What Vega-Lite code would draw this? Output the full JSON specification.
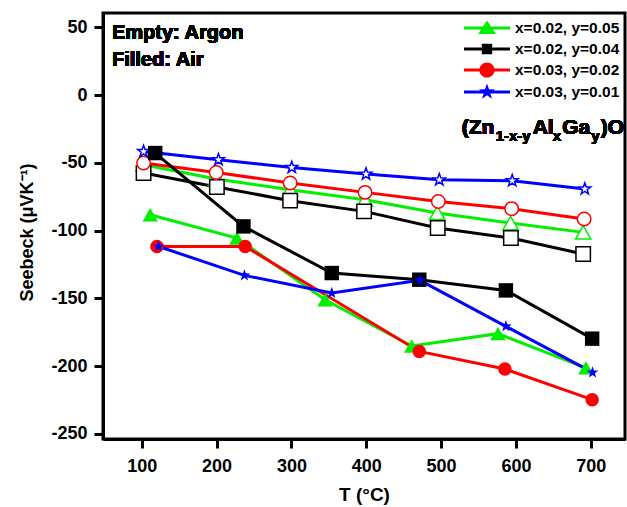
{
  "$schema": "https://vega.github.io/schema/vega-lite/v6.json",
  "width": 522,
  "height": 426,
  "autosize": {"type": "none"},
  "padding": {"left": 103, "top": 13, "right": 2, "bottom": 68},
  "config": {
    "view": {"stroke": "black", "strokeWidth": 3},
    "font": "Liberation Sans",
    "axis": {
      "grid": false,
      "domainColor": "black",
      "domainWidth": 3,
      "tickColor": "black",
      "tickWidth": 3,
      "tickSize": 9,
      "labelFont": "Liberation Sans",
      "labelFontSize": 18,
      "labelFontWeight": "bold",
      "labelColor": "black",
      "titleFont": "Liberation Sans",
      "titleFontWeight": "bold",
      "titleColor": "black"
    },
    "legend": {"labelFont": "Liberation Sans", "labelFontWeight": "bold", "labelColor": "black"}
  },
  "resolve": {"scale": {"shape": "independent"}, "legend": {"shape": "independent", "color": "independent"}},
  "data": {
    "values": [
      {"T": 102.4, "S": -51.4, "series": "x=0.02, y=0.05", "gas": "Argon"},
      {"T": 199.5, "S": -61.9, "series": "x=0.02, y=0.05", "gas": "Argon"},
      {"T": 298.3, "S": -69.8, "series": "x=0.02, y=0.05", "gas": "Argon"},
      {"T": 398.4, "S": -77.2, "series": "x=0.02, y=0.05", "gas": "Argon"},
      {"T": 494.9, "S": -87.0, "series": "x=0.02, y=0.05", "gas": "Argon"},
      {"T": 592.9, "S": -94.4, "series": "x=0.02, y=0.05", "gas": "Argon"},
      {"T": 689.9, "S": -101.3, "series": "x=0.02, y=0.05", "gas": "Argon"},
      {"T": 102.4, "S": -57.5, "series": "x=0.02, y=0.04", "gas": "Argon"},
      {"T": 200.4, "S": -67.8, "series": "x=0.02, y=0.04", "gas": "Argon"},
      {"T": 298.3, "S": -77.9, "series": "x=0.02, y=0.04", "gas": "Argon"},
      {"T": 397.1, "S": -85.8, "series": "x=0.02, y=0.04", "gas": "Argon"},
      {"T": 495.5, "S": -98.1, "series": "x=0.02, y=0.04", "gas": "Argon"},
      {"T": 593.3, "S": -105.5, "series": "x=0.02, y=0.04", "gas": "Argon"},
      {"T": 689.9, "S": -117.3, "series": "x=0.02, y=0.04", "gas": "Argon"},
      {"T": 102.4, "S": -50.1, "series": "x=0.03, y=0.02", "gas": "Argon"},
      {"T": 199.5, "S": -57.1, "series": "x=0.03, y=0.02", "gas": "Argon"},
      {"T": 298.3, "S": -64.9, "series": "x=0.03, y=0.02", "gas": "Argon"},
      {"T": 398.4, "S": -71.8, "series": "x=0.03, y=0.02", "gas": "Argon"},
      {"T": 496.3, "S": -78.5, "series": "x=0.03, y=0.02", "gas": "Argon"},
      {"T": 594.3, "S": -83.8, "series": "x=0.03, y=0.02", "gas": "Argon"},
      {"T": 691.2, "S": -91.4, "series": "x=0.03, y=0.02", "gas": "Argon"},
      {"T": 102.4, "S": -41.6, "series": "x=0.03, y=0.01", "gas": "Argon"},
      {"T": 202.5, "S": -47.7, "series": "x=0.03, y=0.01", "gas": "Argon"},
      {"T": 300.5, "S": -53.4, "series": "x=0.03, y=0.01", "gas": "Argon"},
      {"T": 399.7, "S": -58.3, "series": "x=0.03, y=0.01", "gas": "Argon"},
      {"T": 497.6, "S": -62.5, "series": "x=0.03, y=0.01", "gas": "Argon"},
      {"T": 595.1, "S": -63.2, "series": "x=0.03, y=0.01", "gas": "Argon"},
      {"T": 692.1, "S": -69.3, "series": "x=0.03, y=0.01", "gas": "Argon"},
      {"T": 111.3, "S": -88.3, "series": "x=0.02, y=0.05", "gas": "Air"},
      {"T": 227.1, "S": -105.5, "series": "x=0.02, y=0.05", "gas": "Air"},
      {"T": 345.0, "S": -151.0, "series": "x=0.02, y=0.05", "gas": "Air"},
      {"T": 460.7, "S": -185.1, "series": "x=0.02, y=0.05", "gas": "Air"},
      {"T": 576.0, "S": -176.0, "series": "x=0.02, y=0.05", "gas": "Air"},
      {"T": 693.5, "S": -201.3, "series": "x=0.02, y=0.05", "gas": "Air"},
      {"T": 118.0, "S": -42.8, "series": "x=0.02, y=0.04", "gas": "Air"},
      {"T": 235.9, "S": -96.9, "series": "x=0.02, y=0.04", "gas": "Air"},
      {"T": 353.9, "S": -131.3, "series": "x=0.02, y=0.04", "gas": "Air"},
      {"T": 470.9, "S": -136.2, "series": "x=0.02, y=0.04", "gas": "Air"},
      {"T": 586.6, "S": -144.1, "series": "x=0.02, y=0.04", "gas": "Air"},
      {"T": 701.9, "S": -179.7, "series": "x=0.02, y=0.04", "gas": "Air"},
      {"T": 120.3, "S": -111.7, "series": "x=0.03, y=0.02", "gas": "Air"},
      {"T": 238.2, "S": -111.7, "series": "x=0.03, y=0.02", "gas": "Air"},
      {"T": 470.9, "S": -189.1, "series": "x=0.03, y=0.02", "gas": "Air"},
      {"T": 585.3, "S": -202.1, "series": "x=0.03, y=0.02", "gas": "Air"},
      {"T": 701.9, "S": -224.7, "series": "x=0.03, y=0.02", "gas": "Air"},
      {"T": 122.4, "S": -111.7, "series": "x=0.03, y=0.01", "gas": "Air"},
      {"T": 237.2, "S": -133.0, "series": "x=0.03, y=0.01", "gas": "Air"},
      {"T": 353.9, "S": -146.0, "series": "x=0.03, y=0.01", "gas": "Air"},
      {"T": 471.8, "S": -136.7, "series": "x=0.03, y=0.01", "gas": "Air"},
      {"T": 586.6, "S": -170.6, "series": "x=0.03, y=0.01", "gas": "Air"},
      {"T": 702.4, "S": -204.6, "series": "x=0.03, y=0.01", "gas": "Air"}
    ]
  },
  "layer": [
    {
      "mark": {"type": "line", "strokeWidth": 3},
      "encoding": {
        "x": {
          "field": "T", "type": "quantitative",
          "scale": {"domain": [48.2, 745.8], "nice": false, "zero": false},
          "axis": {"values": [100, 200, 300, 400, 500, 600, 700], "title": "T (°C)", "titleFontSize": 19, "labelPadding": 9, "titlePadding": 10}
        },
        "y": {
          "field": "S", "type": "quantitative",
          "scale": {"domain": [-253.7, 60.5], "nice": false, "zero": false},
          "axis": {"values": [-250, -200, -150, -100, -50, 0, 50], "labelExpr": "replace(datum.label, '−', '-')", "title": "Seebeck (μVK⁻¹)", "titleFontSize": 18, "labelPadding": 7, "titlePadding": 14, "titleY": 219}
        },
        "color": {
          "field": "series", "type": "nominal",
          "scale": {"domain": ["x=0.02, y=0.05", "x=0.02, y=0.04", "x=0.03, y=0.02", "x=0.03, y=0.01"], "range": ["#00F000", "#000000", "#FF0000", "#0000FF"]},
          "legend": null
        },
        "detail": {"field": "gas", "type": "nominal"}
      }
    },
    {
      "transform": [{"filter": "datum.gas === 'Argon'"}],
      "mark": {"type": "point", "filled": false, "fill": "white", "strokeWidth": 1.5, "opacity": 1},
      "encoding": {
        "x": {"field": "T", "type": "quantitative"},
        "y": {"field": "S", "type": "quantitative"},
        "color": {"field": "series", "type": "nominal", "legend": null},
        "shape": {
          "field": "series", "type": "nominal",
          "scale": {"domain": ["x=0.02, y=0.05", "x=0.02, y=0.04", "x=0.03, y=0.02", "x=0.03, y=0.01"], "range": ["triangle-up", "square", "circle", "M0,-1L0.235,-0.324L0.951,-0.309L0.38,0.124L0.588,0.809L0,0.4L-0.588,0.809L-0.38,0.124L-0.951,-0.309L-0.235,-0.324Z"]},
          "legend": null
        },
        "size": {
          "field": "series", "type": "nominal",
          "scale": {"domain": ["x=0.02, y=0.05", "x=0.02, y=0.04", "x=0.03, y=0.02", "x=0.03, y=0.01"], "range": [235, 155, 205, 320]},
          "legend": null
        }
      }
    },
    {
      "transform": [{"filter": "datum.gas === 'Air'"}],
      "mark": {"type": "point", "filled": true, "opacity": 1},
      "encoding": {
        "x": {"field": "T", "type": "quantitative"},
        "y": {"field": "S", "type": "quantitative"},
        "color": {"field": "series", "type": "nominal", "legend": null},
        "shape": {
          "field": "series", "type": "nominal",
          "scale": {"domain": ["x=0.02, y=0.05", "x=0.02, y=0.04", "x=0.03, y=0.02", "x=0.03, y=0.01"], "range": ["triangle-up", "square", "circle", "M0,-1L0.235,-0.324L0.951,-0.309L0.38,0.124L0.588,0.809L0,0.4L-0.588,0.809L-0.38,0.124L-0.951,-0.309L-0.235,-0.324Z"]},
          "legend": null
        },
        "size": {"field": "series", "type": "nominal", "legend": null}
      }
    },
    {
      "transform": [{"filter": "datum.gas === 'none'"}],
      "mark": {"type": "point", "filled": true, "opacity": 1, "fill": {"expr": "scale('color', datum.value)"}},
      "encoding": {
        "x": {"field": "T", "type": "quantitative"},
        "y": {"field": "S", "type": "quantitative"},
        "shape": {
          "field": "series", "type": "nominal",
          "scale": {"domain": ["x=0.02, y=0.05", "x=0.02, y=0.04", "x=0.03, y=0.02", "x=0.03, y=0.01"], "range": [
            "M-2.875,-0.19L2.875,-0.19L2.875,0.19L-2.875,0.19ZM-1.1,0.75L0,-0.95L1.1,0.75Z",
            "M-2.875,-0.19L2.875,-0.19L2.875,0.19L-2.875,0.19ZM-0.65,-0.65L0.65,-0.65L0.65,0.65L-0.65,0.65Z",
            "M-2.875,-0.19L2.875,-0.19L2.875,0.19L-2.875,0.19ZM-0.95,0A0.95,0.95 0 1,1 0.95,0A0.95,0.95 0 1,1 -0.95,0Z",
            "M-2.875,-0.19L2.875,-0.19L2.875,0.19L-2.875,0.19ZM0,-1.05L0.247,-0.34L0.999,-0.324L0.399,0.13L0.617,0.849L0,0.42L-0.617,0.849L-0.399,0.13L-0.999,-0.324L-0.247,-0.34Z"
          ]},
          "legend": {
            "title": null,
            "orient": "none",
            "legendX": 376,
            "legendY": 7,
            "symbolSize": 256,
            "symbolStrokeWidth": 0,
            "symbolFillColor": {"expr": "scale('color', datum.value)"},
            "symbolOpacity": 1,
            "labelFont": "Liberation Sans",
            "labelFontSize": 15.5,
            "labelFontWeight": "bold",
            "labelColor": "black",
            "labelOffset": 20,
            "rowPadding": 4
          }
        }
      }
    },
    {
      "mark": {"type": "text", "align": "left", "baseline": "alphabetic", "font": "Liberation Sans", "fontWeight": "bold", "fontSize": 20, "color": "black", "text": "Empty: Argon"},
      "encoding": {"x": {"datum": 60.2}, "y": {"datum": 41.3}}
    },
    {
      "mark": {"type": "text", "align": "left", "baseline": "alphabetic", "font": "Liberation Sans", "fontWeight": "bold", "fontSize": 20, "color": "black", "text": "Filled: Air"},
      "encoding": {"x": {"datum": 60.2}, "y": {"datum": 21.1}}
    },
    {
      "mark": {"type": "text", "align": "left", "baseline": "alphabetic", "font": "Liberation Sans", "fontWeight": "bold", "fontSize": 21, "color": "black", "text": "(Zn"},
      "encoding": {"x": {"datum": 527.5}, "y": {"datum": -28.5}}
    },
    {
      "mark": {"type": "text", "align": "left", "baseline": "alphabetic", "font": "Liberation Sans", "fontWeight": "bold", "fontSize": 15, "color": "black", "text": "1-x-y", "dx": 34, "dy": 7},
      "encoding": {"x": {"datum": 527.5}, "y": {"datum": -28.5}}
    },
    {
      "mark": {"type": "text", "align": "left", "baseline": "alphabetic", "font": "Liberation Sans", "fontWeight": "bold", "fontSize": 21, "color": "black", "text": "Al", "dx": 71},
      "encoding": {"x": {"datum": 527.5}, "y": {"datum": -28.5}}
    },
    {
      "mark": {"type": "text", "align": "left", "baseline": "alphabetic", "font": "Liberation Sans", "fontWeight": "bold", "fontSize": 15, "color": "black", "text": "x", "dx": 91, "dy": 7},
      "encoding": {"x": {"datum": 527.5}, "y": {"datum": -28.5}}
    },
    {
      "mark": {"type": "text", "align": "left", "baseline": "alphabetic", "font": "Liberation Sans", "fontWeight": "bold", "fontSize": 21, "color": "black", "text": "Ga", "dx": 100.5},
      "encoding": {"x": {"datum": 527.5}, "y": {"datum": -28.5}}
    },
    {
      "mark": {"type": "text", "align": "left", "baseline": "alphabetic", "font": "Liberation Sans", "fontWeight": "bold", "fontSize": 15, "color": "black", "text": "y", "dx": 129.5, "dy": 7},
      "encoding": {"x": {"datum": 527.5}, "y": {"datum": -28.5}}
    },
    {
      "mark": {"type": "text", "align": "left", "baseline": "alphabetic", "font": "Liberation Sans", "fontWeight": "bold", "fontSize": 21, "color": "black", "text": ")O", "dx": 139},
      "encoding": {"x": {"datum": 527.5}, "y": {"datum": -28.5}}
    }
  ]
}
